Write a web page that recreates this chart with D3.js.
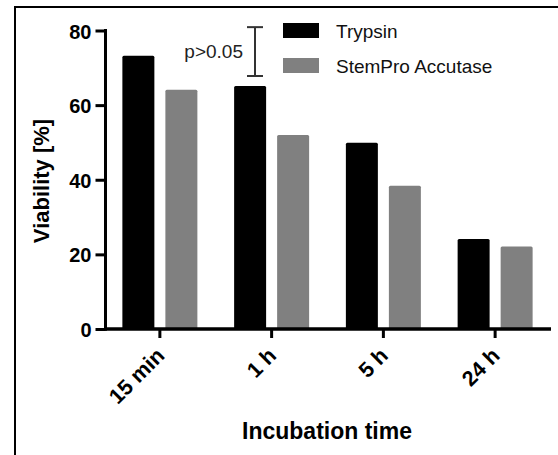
<!DOCTYPE html>
<html>
<head>
<meta charset="utf-8">
<script src="https://cdn.jsdelivr.net/npm/d3@7"></script>
<style>
  body { margin: 0; background: #fff; }
  svg { display: block; font-family: "Liberation Sans", Arial, sans-serif; }
</style>
</head>
<body>
<div id="chart"></div>
<script>
const categories = ['15 min', '1 h', '5 h', '24 h'];
const series = ['Trypsin', 'StemPro Accutase'];
const trypsin = [73.2, 65.1, 49.9, 24.1];
const accutase = [64.1, 52.0, 38.4, 22.1];
const yTicks = [0, 20, 40, 60, 80];
const pRange = [67.8, 80.9]; // bracket over the 1 h group
const pLabel = 'p>0.05';

const width = 558, height = 455;
const colors = { 'Trypsin': '#000000', 'StemPro Accutase': '#808080' };

const svg = d3.select('#chart').append('svg').attr('width', width).attr('height', height);

// frame (top and left edges only)
svg.append('line').attr('x1', 15).attr('x2', width).attr('y1', 7).attr('y2', 7)
	.attr('stroke', '#000').attr('stroke-width', 2);
svg.append('line').attr('x1', 15).attr('x2', 15).attr('y1', 6).attr('y2', height)
	.attr('stroke', '#000').attr('stroke-width', 2);

const x = d3.scaleBand().domain(categories).range([104, 551]);
const x1 = d3.scaleBand().domain(series).range([-37.5, 37.5]).paddingInner(0.256);
const y = d3.scaleLinear().domain([0, 80]).range([329, 30.5]);

const rows = categories.map((c, i) => ({ cat: c, values: [trypsin[i], accutase[i]] }));

// bars
const groups = svg.append('g').selectAll('g').data(rows).enter().append('g')
	.attr('transform', d => `translate(${x(d.cat) + x.bandwidth() / 2},0)`);

groups.selectAll('rect')
	.data(d => d.values.map((v, j) => ({ key: series[j], value: v })))
	.enter().append('rect')
	.attr('x', d => x1(d.key))
	.attr('width', x1.bandwidth())
	.attr('y', d => y(d.value))
	.attr('height', d => y(0) - y(d.value))
	.attr('rx', 1.5)
	.attr('fill', d => colors[d.key]);

// y axis
const yAxis = svg.append('g').attr('transform', 'translate(105.5,0)')
	.call(d3.axisLeft(y).tickValues(yTicks).tickSize(10).tickSizeOuter(0).tickPadding(4));
yAxis.select('.domain').attr('stroke-width', 3).attr('d', `M0,${y(80) - 1.5}V${y(0) + 1.75}`);
yAxis.selectAll('.tick line').attr('stroke-width', 3);
yAxis.selectAll('.tick text').attr('font-size', 20).attr('font-weight', 'bold')
	.attr('fill', '#000').attr('font-family', '"Liberation Sans", Arial, sans-serif')
	.attr('dy', '0.38em');

// x axis
const xAxis = svg.append('g').attr('transform', `translate(0,${y(0)})`)
	.call(d3.axisBottom(x).tickSize(9).tickSizeOuter(0).tickFormat(''));
xAxis.select('.domain').attr('stroke-width', 3.5).attr('d', 'M104,0H551');
xAxis.selectAll('.tick line').attr('stroke-width', 3);

svg.append('g').selectAll('text').data(categories).enter().append('text')
	.attr('transform', d => `translate(${x(d) + x.bandwidth() / 2 + 6},${y(0) + 28}) rotate(-45)`)
	.attr('text-anchor', 'end')
	.attr('font-size', 21.5).attr('font-weight', 'bold')
	.text(d => d);

// axis titles
svg.append('text')
	.attr('transform', 'translate(49,181) rotate(-90)')
	.attr('text-anchor', 'middle')
	.attr('font-size', 22).attr('font-weight', 'bold')
	.text('Viability [%]');

svg.append('text')
	.attr('x', 327).attr('y', 439)
	.attr('text-anchor', 'middle')
	.attr('font-size', 23).attr('font-weight', 'bold')
	.text('Incubation time');

// significance bracket
const bx = 255;
const bracket = svg.append('g').attr('stroke', '#333').attr('stroke-width', 2);
bracket.append('line').attr('x1', bx).attr('x2', bx).attr('y1', y(pRange[1])).attr('y2', y(pRange[0]));
bracket.append('line').attr('x1', bx - 8).attr('x2', bx + 8).attr('y1', y(pRange[1])).attr('y2', y(pRange[1]));
bracket.append('line').attr('x1', bx - 8).attr('x2', bx + 8).attr('y1', y(pRange[0])).attr('y2', y(pRange[0]));
svg.append('text')
	.attr('x', 243).attr('y', 58)
	.attr('text-anchor', 'end')
	.attr('font-size', 19).attr('fill', '#222')
	.text(pLabel);

// legend
const legend = svg.append('g').selectAll('g').data(series).enter().append('g')
	.attr('transform', (d, i) => `translate(283,${23 + i * 35})`);
legend.append('rect').attr('width', 36).attr('height', 15).attr('fill', d => colors[d]);
legend.append('text').attr('x', 53).attr('y', 14.5)
	.attr('font-size', 19).attr('fill', '#111')
	.text(d => d);
</script>
</body>
</html>
